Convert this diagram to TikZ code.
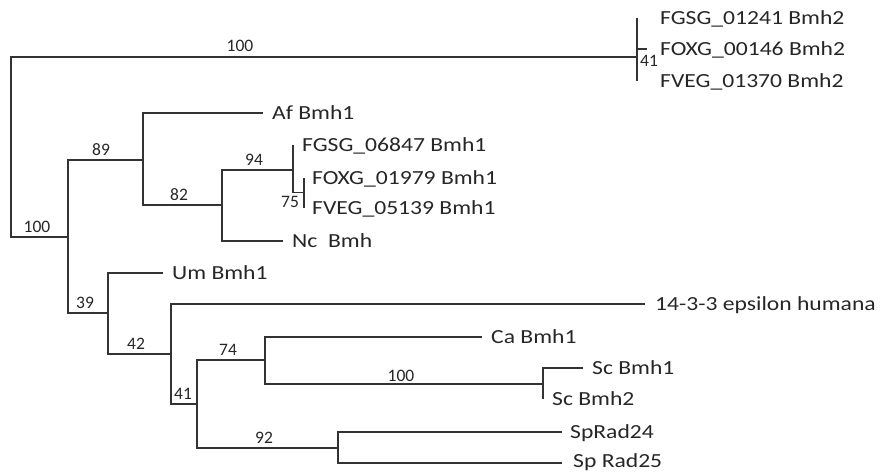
\documentclass[tikz,border=0pt]{standalone}
\usepackage{fontspec}
\setmainfont{Carlito}
\newfontfamily\leaffont[FakeStretch=1.18]{Carlito}
\begin{document}
\begin{tikzpicture}[x=1pt,y=-1pt,
  br/.style={line width=1.2pt, draw=black!80},
  leaf/.style={anchor=base west, inner sep=0pt, yshift=-6.4pt, xshift=9pt, font=\leaffont\fontsize{20}{20}\selectfont, text=black!85},
  bs/.style={anchor=center, inner sep=0pt, font=\fontsize{17.5}{17.5}\selectfont, text=black!85}]
\useasboundingbox (0,0) rectangle (883,472);
% internal nodes
\coordinate (r) at (11,147.5);
\coordinate (b2) at (637,57);
\coordinate (b2m) at (637,49);
\coordinate (a) at (68,237);
\coordinate (c89) at (143,160);
\coordinate (c82) at (222,205);
\coordinate (c94) at (293,170);
\coordinate (c75) at (304,192.5);
\coordinate (c39) at (108,313);
\coordinate (c42) at (171,354);
\coordinate (c41) at (197,404);
\coordinate (c74) at (265,360);
\coordinate (csc) at (543,384);
\coordinate (c92) at (338,448);
% leaf tips
\coordinate (t1) at (637,18);
\coordinate (t2) at (647,49);
\coordinate (t3) at (637,81);
\coordinate (af) at (263,113);
\coordinate (fg) at (293,145);
\coordinate (fo) at (304,178);
\coordinate (fv) at (304,208);
\coordinate (nc) at (283,241);
\coordinate (um) at (163,273);
\coordinate (hu) at (645,304);
\coordinate (ca) at (482,337);
\coordinate (sc1) at (583,368);
\coordinate (sc2) at (543,399);
\coordinate (sp24) at (562,432);
\coordinate (sp25) at (562,463);
% branches
\draw[br] (r) |- (b2);
\draw[br] (r) |- (a);
\draw[br] (t1) -- (t3);
\draw[br] (b2m) -- (t2);
\draw[br] (a) |- (c89);
\draw[br] (a) |- (c39);
\draw[br] (c89) |- (af);
\draw[br] (c89) |- (c82);
\draw[br] (c82) |- (c94);
\draw[br] (c82) |- (nc);
\draw[br] (c94) |- (fg);
\draw[br] (c94) |- (c75);
\draw[br] (c75) |- (fo);
\draw[br] (c75) |- (fv);
\draw[br] (c39) |- (um);
\draw[br] (c39) |- (c42);
\draw[br] (c42) |- (hu);
\draw[br] (c42) |- (c41);
\draw[br] (c41) |- (c74);
\draw[br] (c41) |- (c92);
\draw[br] (c74) |- (ca);
\draw[br] (c74) |- (csc);
\draw[br] (csc) |- (sc1);
\draw[br] (csc) |- (sc2);
\draw[br] (c92) |- (sp24);
\draw[br] (c92) |- (sp25);
% leaf labels
\node[leaf, xshift=14pt] (lt1) at (t1) {FGSG\_01241 Bmh2};
\node[leaf, xshift=4pt] (lt2) at (t2) {FOXG\_00146 Bmh2};
\node[leaf, xshift=14pt] (lt3) at (t3) {FVEG\_01370 Bmh2};
\node[leaf] (laf) at (af) {Af Bmh1};
\node[leaf] (lfg) at (fg) {FGSG\_06847 Bmh1};
\node[leaf, xshift=-1pt] (lfo) at (fo) {FOXG\_01979 Bmh1};
\node[leaf, xshift=-1pt] (lfv) at (fv) {FVEG\_05139 Bmh1};
\node[leaf] (lnc) at (nc) {Nc\ \ Bmh};
\node[leaf] (lum) at (um) {Um Bmh1};
\node[leaf, xshift=1pt] (lhu) at (hu) {14-3-3 epsilon humana};
\node[leaf] (lca) at (ca) {Ca Bmh1};
\node[leaf] (lsc1) at (sc1) {Sc Bmh1};
\node[leaf] (lsc2) at (sc2) {Sc Bmh2};
\node[leaf, xshift=-1pt] (lsp24) at (sp24) {SpRad24};
\node[leaf, xshift=2pt, yshift=1.5pt] (lsp25) at (sp25) {Sp Rad25};
% bootstrap values
\node[bs] (v1) at (240,46) {100};
\node[bs] (v2) at (649,61) {41};
\node[bs] (v3) at (37,227) {100};
\node[bs] (v4) at (101,150) {89};
\node[bs] (v5) at (179,195) {82};
\node[bs] (v6) at (254,160) {94};
\node[bs] (v7) at (290,202) {75};
\node[bs] (v8) at (85,303) {39};
\node[bs] (v9) at (136,344) {42};
\node[bs] (v10) at (183,394) {41};
\node[bs] (v11) at (228,350) {74};
\node[bs] (v12) at (264,438) {92};
\node[bs] (v13) at (401,376) {100};
\end{tikzpicture}
\end{document}
